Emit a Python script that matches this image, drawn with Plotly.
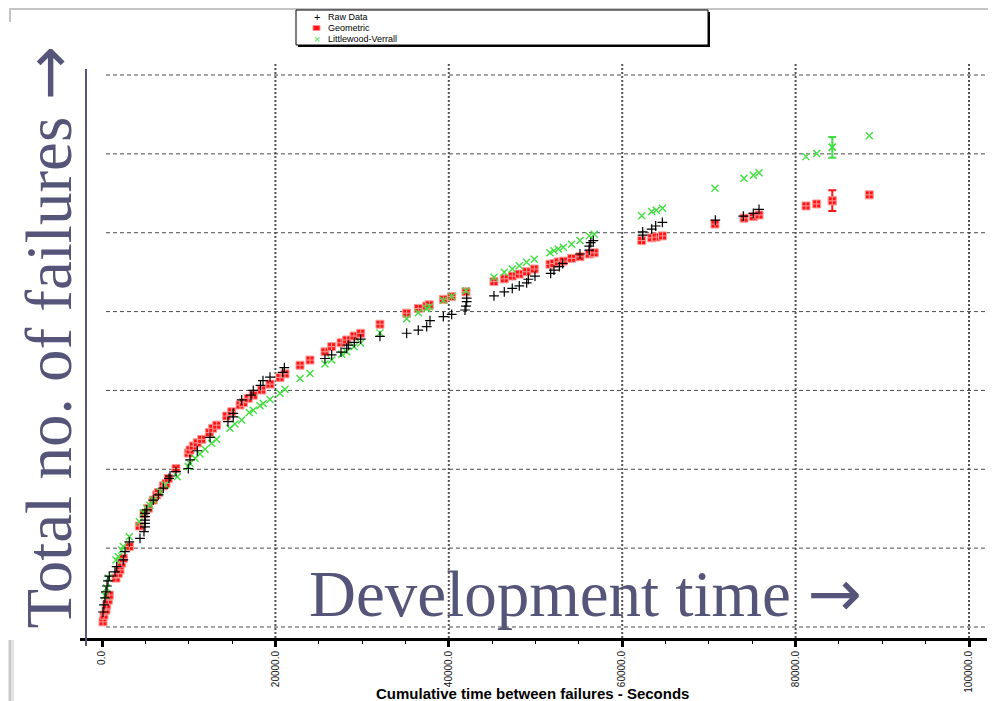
import plotly.graph_objects as go

# ---------------- data ----------------
raw_x = [115, 231, 346, 461, 577, 692, 842, 1500, 1695, 2457, 2653, 3149, 4383, 4844, 4960, 4960, 4960, 4960, 4960,
         5156, 5917, 6494, 7070, 7728, 7843, 8535, 9954, 10150, 10990, 12460, 14530, 15140, 15140, 16110, 17190,
         17450, 18280, 18570, 19380, 20840, 21030, 25720, 26490, 27570, 28220, 28410, 29100, 29840, 32060, 35140,
         36480, 37450, 37830, 39370, 40330, 41870, 41980, 42060, 42060, 45210, 46400, 47320, 48130, 48980, 49170,
         49940, 51750, 52130, 52750, 53140, 55130, 56200, 56200, 56370, 56670, 62360, 62360, 63400, 63860, 64630,
         70740, 73970, 75120, 75780]
raw_y = [3.8, 5.6, 7.4, 8.9, 10.4, 11.7, 12.9, 14.0, 15.3, 17.0, 19.1, 21.6, 22.5, 24.2, 25.4, 26.3, 27.1, 28.0, 28.8,
         29.7, 32.2, 33.5, 35.2, 37.7, 38.3, 39.4, 40.2, 42.4, 44.7, 48.1, 52.1, 53.3, 54.2, 57.6, 58.8, 60.0, 61.3,
         62.5, 63.4, 64.6, 65.8, 68.1, 69.0, 69.7, 70.7, 71.5, 72.2, 73.0, 73.7, 74.5, 75.3, 76.2, 77.7, 78.7, 79.3,
         80.4, 81.4, 82.5, 83.4, 84.0, 85.0, 85.9, 86.5, 87.3, 88.2, 89.0, 89.7, 90.5, 91.4, 92.2, 94.6, 95.6, 96.6,
         97.5, 98.0, 99.4, 100.2, 100.9, 101.7, 102.6, 103.2, 104.2, 104.9, 105.9]

geo_x = [115, 231, 461, 542, 727, 842, 1615, 1880, 2076, 2272, 2457, 3149, 4302, 4844, 5340, 5917, 6309, 6494, 7070,
         7382, 7647, 8535, 9954, 10150, 10530, 10990, 11500, 12380, 12770, 13230, 14380, 14960, 15920, 16300, 16870,
         17450, 18420, 19380, 20530, 21110, 22840, 23990, 25720, 26490, 27570, 28220, 29070, 29840, 32060, 35140,
         36480, 37450, 37750, 39370, 40330, 41980, 45210, 46400, 47320, 48130, 48980, 49860, 51670, 52130, 52630,
         53210, 54170, 55130, 56200, 56780, 62250, 63400, 63930, 64650, 70700, 74050, 75120, 75780, 81200, 82430,
         84230, 88500]
geo_y = [1.3, 3.0, 4.3, 5.6, 6.8, 8.1, 12.4, 13.6, 14.5, 16.2, 17.4, 20.4, 25.6, 28.7, 30.1, 32.2, 33.5, 34.1, 35.8,
         36.4, 37.7, 40.2, 44.1, 44.9, 45.9, 46.7, 47.6, 49.3, 50.4, 51.2, 53.5, 54.6, 56.3, 56.9, 58.0, 58.8, 60.1,
         61.6, 63.3, 64.2, 66.4, 67.7, 69.8, 71.1, 72.1, 72.8, 73.8, 74.5, 76.8, 79.6, 80.8, 81.4, 81.7, 83.1, 83.8,
         85.0, 87.6, 88.3, 89.0, 89.5, 90.1, 90.8, 92.0, 92.2, 92.6, 92.8, 93.5, 93.9, 94.6, 94.9, 98.0, 98.7, 98.9,
         99.2, 102.2, 103.7, 104.1, 104.5, 106.8, 107.3, 108.1, 109.6]
geo_err_index = 80
geo_err_plus = 2.7
geo_err_minus = 2.6

lv_x = [346, 542, 727, 1615, 1880, 2272, 2457, 3149, 4302, 4763, 5156, 5536, 5917, 6690, 7266, 8685, 9954, 10150,
        10730, 11300, 11880, 12650, 13230, 14760, 15340, 16110, 16990, 17450, 18220, 18600, 19380, 20530, 21110,
        22840, 23990, 25720, 26490, 27650, 28220, 29070, 29840, 32060, 35140, 36480, 37450, 37750, 39370, 40330,
        41980, 45210, 46400, 47320, 48130, 48980, 49860, 51670, 52130, 52630, 53210, 54170, 55130, 56200, 56780,
        62250, 63400, 63930, 64650, 70700, 74050, 75120, 75780, 81200, 82430, 84230, 88500]
lv_y = [7.9, 9.9, 12.4, 17.0, 17.8, 19.5, 20.4, 22.9, 26.7, 29.0, 30.1, 30.9, 32.2, 34.3, 36.0, 38.1, 40.7, 41.5,
        42.8, 43.9, 45.1, 46.6, 47.6, 50.4, 51.5, 52.5, 54.4, 55.0, 56.1, 56.7, 57.7, 59.3, 60.3, 63.0, 64.3, 66.7,
        67.7, 69.2, 69.8, 71.1, 72.0, 74.6, 78.2, 79.7, 80.8, 81.2, 82.9, 83.8, 85.3, 88.7, 90.0, 90.8, 91.6, 92.5,
        93.3, 94.9, 95.4, 95.9, 96.3, 97.1, 98.0, 99.2, 99.6, 104.3, 105.4, 105.7, 106.2, 111.3, 113.8, 114.6,
        115.2, 119.3, 120.1, 121.7, 124.6]
lv_err_index = 73
lv_err_plus = 2.6
lv_err_minus = 2.7

x_tickvals = [0, 20000, 40000, 60000, 80000, 100000]
x_ticktext = ["0.0", "20000.0", "40000.0", "60000.0", "80000.0", "100000.0"]
y_gridvals = [0, 20, 40, 60, 80, 100, 120, 140]
x_gridvals = [20000, 40000, 60000, 80000, 100000]

series_names = ["Raw Data", "Geometric", "Littlewood-Verrall"]

# ---------------- layout geometry ----------------
# the page body has an 8px margin, so the figure starts at screen (8, 8)
OFF = 8
SCREEN_W, SCREEN_H = 996, 701
W, H = SCREEN_W - OFF, SCREEN_H - OFF
ML, MR, MT, MB = 80 - OFF, SCREEN_W - 987, 62 - OFF, SCREEN_H - 638
PW, PH = W - ML - MR, H - MT - MB
X_RANGE = [-2537, 102075]
Y_RANGE = [-2.79, 143.3]


def px(xs):
    """screen x pixel -> paper x"""
    return (xs - OFF - ML) / PW


def py(ys):
    """screen y pixel -> paper y"""
    return (H - MB - (ys - OFF)) / PH


SLATE = "#55557a"
RED = "#ff1414"
GREEN = "#3fe03f"

fig = go.Figure()

fig.add_trace(go.Scatter(
    x=geo_x, y=geo_y, mode="markers", name=series_names[1], showlegend=False,
    marker=dict(symbol="square-cross", size=8, color=RED, line=dict(color="#ff9a9a", width=1)),
))
fig.add_trace(go.Scatter(
    x=lv_x, y=lv_y, mode="markers", name=series_names[2], showlegend=False,
    marker=dict(symbol="x-thin", size=7, line=dict(color=GREEN, width=1.4)),
))
fig.add_trace(go.Scatter(
    x=raw_x, y=raw_y, mode="markers", name=series_names[0], showlegend=False,
    marker=dict(symbol="cross-thin", size=7, line=dict(color="black", width=1.2)),
))
# error bars on one prediction of each model
fig.add_trace(go.Scatter(
    x=[geo_x[geo_err_index]], y=[geo_y[geo_err_index]], mode="markers", showlegend=False, hoverinfo="skip",
    marker=dict(symbol="square-cross", size=8, color=RED, line=dict(color="#ff9a9a", width=1)),
    error_y=dict(type="data", symmetric=False, array=[geo_err_plus], arrayminus=[geo_err_minus],
                 color=RED, thickness=2, width=4),
))
fig.add_trace(go.Scatter(
    x=[lv_x[lv_err_index]], y=[lv_y[lv_err_index]], mode="markers", showlegend=False, hoverinfo="skip",
    marker=dict(symbol="x-thin", size=7, line=dict(color=GREEN, width=1.4)),
    error_y=dict(type="data", symmetric=False, array=[lv_err_plus], arrayminus=[lv_err_minus],
                 color=GREEN, thickness=2, width=4),
))

shapes = []
# window chrome remnants
shapes.append(dict(type="line", xref="paper", yref="paper", x0=px(10), x1=px(SCREEN_W), y0=py(9), y1=py(9),
                   line=dict(color="#c4c4c4", width=2), layer="below"))
shapes.append(dict(type="line", xref="paper", yref="paper", x0=px(10), x1=px(10), y0=py(8), y1=py(22),
                   line=dict(color="#c4c4c4", width=2), layer="below"))
shapes.append(dict(type="rect", xref="paper", yref="paper", x0=px(8), x1=px(14), y0=py(640), y1=py(SCREEN_H),
                   fillcolor="#e4e4e4", line=dict(width=0), layer="below"))
shapes.append(dict(type="line", xref="paper", yref="paper", x0=px(10), x1=px(10), y0=py(640), y1=py(SCREEN_H),
                   line=dict(color="#c8c8c8", width=2), layer="below"))

# horizontal dashed gridlines
for gv in y_gridvals:
    shapes.append(dict(type="line", xref="x", yref="y", x0=461, x1=X_RANGE[1] - 100, y0=gv, y1=gv,
                       line=dict(color="#4a4a4a", width=1, dash="4px,3px"), layer="below"))
# vertical dotted gridlines
for gv in x_gridvals:
    shapes.append(dict(type="line", xref="x", yref="paper", x0=gv, x1=gv, y0=0, y1=1,
                       line=dict(color="#555555", width=2, dash="2px,2px"), layer="below"))

# slide line
shapes.append(dict(type="line", xref="paper", yref="paper", x0=px(86), x1=px(86), y0=py(69), y1=py(646),
                   line=dict(color=SLATE, width=2)))

# legend box
shapes.append(dict(type="rect", xref="paper", yref="paper", x0=px(298), x1=px(710), y0=py(12), y1=py(47),
                   fillcolor="black", line=dict(width=0)))
shapes.append(dict(type="rect", xref="paper", yref="paper", x0=px(296), x1=px(708), y0=py(10), y1=py(45),
                   fillcolor="white", line=dict(color="black", width=1)))
shapes.append(dict(type="rect", xref="paper", yref="paper", x0=px(313), x1=px(320), y0=py(25.5), y1=py(30.5),
                   fillcolor=RED, line=dict(color="#ff9090", width=1)))

annotations = []
legend_rows = [17, 28, 39]
legend_syms = [("+", "black"), ("", RED), ("\u00d7", GREEN)]
for i, name in enumerate(series_names):
    if legend_syms[i][0]:
        annotations.append(dict(xref="paper", yref="paper", x=px(316.5), y=py(legend_rows[i]),
                                text=legend_syms[i][0], showarrow=False, xanchor="center", yanchor="middle",
                                font=dict(family="Arial", size=11, color=legend_syms[i][1])))
    annotations.append(dict(xref="paper", yref="paper", x=px(326), y=py(legend_rows[i]), text=name,
                            showarrow=False, xanchor="left", yanchor="middle",
                            font=dict(family="Arial", size=9, color="black")))

annotations.append(dict(xref="paper", yref="paper", x=px(532), y=py(693),
                        text="<b>Cumulative time between failures - Seconds</b>", showarrow=False,
                        xanchor="center", yanchor="middle", font=dict(family="Arial", size=15, color="black")))

ARROW = '<span style="font-family:DejaVu Sans">\u2192</span>'
annotations.append(dict(xref="paper", yref="paper", x=px(48), y=py(337.5),
                        text="Total no. of failures " + ARROW, textangle=-90, showarrow=False,
                        xanchor="center", yanchor="middle",
                        font=dict(family="Liberation Serif", size=65, color=SLATE)))
annotations.append(dict(xref="paper", yref="paper", x=px(585), y=py(593),
                        text="Development time " + ARROW, showarrow=False,
                        xanchor="center", yanchor="middle",
                        font=dict(family="Liberation Serif", size=65, color=SLATE)))

fig.update_layout(
    width=W, height=H,
    margin=dict(l=ML, r=MR, t=MT, b=MB),
    paper_bgcolor="white", plot_bgcolor="white",
    showlegend=False,
    shapes=shapes, annotations=annotations,
    xaxis=dict(range=X_RANGE, showgrid=False, zeroline=False, showline=True, linewidth=3, linecolor="black",
               ticks="outside", ticklen=6, tickwidth=3, tickcolor="black",
               tickvals=x_tickvals, ticktext=x_ticktext, tickangle=-90,
               tickfont=dict(family="Arial", size=10, color="#111111"),
               minor=dict(tick0=0, dtick=5000, ticks="outside", ticklen=3, tickwidth=1, tickcolor="black",
                          showgrid=False)),
    yaxis=dict(range=Y_RANGE, showgrid=False, zeroline=False, showline=False, showticklabels=False, ticks=""),
)

fig.write_html("out.html")
